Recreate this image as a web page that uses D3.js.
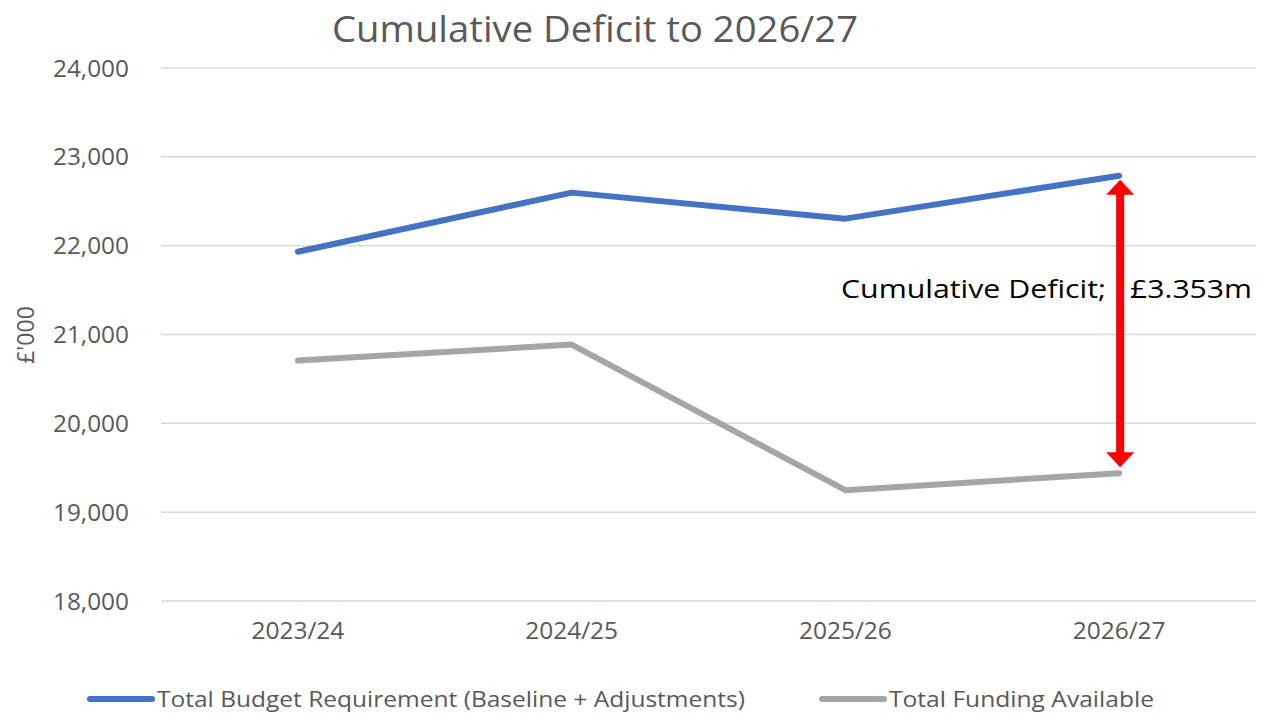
<!DOCTYPE html>
<html lang="en">
  <head>
    <meta charset="UTF-8" />
    <title>Cumulative Deficit</title>
    <script src="https://d3js.org/d3.v7.min.js"></script>
    <style>
      body { margin: 0; background: #fff; }
      svg { font-family: "Open Sans", "Noto Sans", sans-serif; }
      .grid line { stroke: #d9d9d9; stroke-width: 1.5; }
      .axis text { fill: #595959; font-size: 23px; font-family: "Open Sans", sans-serif; }
    </style>
  </head>
  <body>
    <svg id="chart" width="1269" height="715"></svg>
    <script>
      // data
      const years = ["2023/24", "2024/25", "2025/26", "2026/27"];
      const budget = [21932, 22597, 22304, 22788];
      const funding = [20707, 20887, 19248, 19439];
      const yTicks = [18000, 19000, 20000, 21000, 22000, 23000, 24000];
      const seriesNames = ["Total Budget Requirement (Baseline + Adjustments)", "Total Funding Available"];
      const deficitParts = ["Cumulative Deficit;", "£3.353m"];

      const width = 1269, height = 715;
      const margin = { top: 68, right: 13, bottom: 114, left: 161 };

      const svg = d3.select("#chart");

      const x = d3.scaleBand().domain(years).range([margin.left, width - margin.right]);
      const y = d3.scaleLinear().domain([18000, 24000]).range([height - margin.bottom, margin.top]);

      // gridlines
      svg.append("g").attr("class", "grid")
        .selectAll("line").data(yTicks).join("line")
        .attr("x1", margin.left).attr("x2", width - margin.right)
        .attr("y1", d => y(d)).attr("y2", d => y(d));

      // y axis
      const yAxis = d3.axisLeft(y).tickValues(yTicks).tickFormat(d3.format(",")).tickSize(0).tickPadding(32);
      svg.append("g").attr("class", "axis")
        .attr("transform", `translate(${margin.left},0)`)
        .call(yAxis)
        .call(g => g.select(".domain").remove())
        .selectAll("text").attr("dy", "0.35em").attr("textLength", 76).attr("lengthAdjust", "spacingAndGlyphs");

      // x axis
      const xAxis = d3.axisBottom(x).tickSize(0).tickPadding(22);
      svg.append("g").attr("class", "axis")
        .attr("transform", `translate(0,${height - margin.bottom})`)
        .call(xAxis)
        .call(g => g.select(".domain").remove())
        .selectAll("text").attr("textLength", 93).attr("lengthAdjust", "spacingAndGlyphs");

      // title
      svg.append("text")
        .attr("x", 595).attr("y", 42)
        .attr("text-anchor", "middle")
        .attr("fill", "#595959").attr("font-size", 36)
        .attr("textLength", 526).attr("lengthAdjust", "spacingAndGlyphs")
        .text("Cumulative Deficit to 2026/27");

      // y label
      svg.append("text")
        .attr("transform", "translate(34,335) rotate(-90)")
        .attr("text-anchor", "middle")
        .attr("fill", "#595959").attr("font-size", 23)
        .text("£'000");

      // lines
      const line = d3.line().x((d, i) => x(years[i]) + x.bandwidth() / 2).y(d => y(d));
      const series = [
        { values: budget, color: "#4472C4" },
        { values: funding, color: "#A5A5A5" }
      ];
      svg.selectAll(".series").data(series).join("path")
        .attr("class", "series")
        .attr("d", d => line(d.values))
        .attr("fill", "none")
        .attr("stroke", d => d.color)
        .attr("stroke-width", 6)
        .attr("stroke-linecap", "round")
        .attr("stroke-linejoin", "round");

      // deficit label (two pieces either side of the arrow)
      const labelX = [841, 1130];
      const labelW = [265, 122];
      svg.append("g").selectAll("text").data(deficitParts).join("text")
        .attr("x", (d, i) => labelX[i]).attr("y", 298)
        .attr("fill", "#000").attr("font-size", 25)
        .attr("textLength", (d, i) => labelW[i]).attr("lengthAdjust", "spacingAndGlyphs")
        .text(d => d);

      // double arrow
      const last = years.length - 1;
      const ax = x(years[last]) + x.bandwidth() / 2 + 1;
      const yTop = y(budget[last]) + 4, yBot = y(funding[last]) - 6;
      const head = 15, hw = 14, sw = 4;
      svg.append("path")
        .attr("fill", "#ff0000")
        .attr("d", `M${ax},${yTop} L${ax + hw},${yTop + head} L${ax + sw},${yTop + head}
          L${ax + sw},${yBot - head} L${ax + hw},${yBot - head} L${ax},${yBot}
          L${ax - hw},${yBot - head} L${ax - sw},${yBot - head} L${ax - sw},${yTop + head}
          L${ax - hw},${yTop + head} Z`);

      // legend
      const legendX = [88, 820];
      const legendW = [588, 265];
      const lg = svg.append("g").selectAll("g").data(series).join("g")
        .attr("transform", (d, i) => `translate(${legendX[i]},699)`);
      lg.append("line")
        .attr("x1", 2).attr("x2", 64).attr("y1", 0).attr("y2", 0)
        .attr("stroke", d => d.color).attr("stroke-width", 6).attr("stroke-linecap", "round");
      lg.append("text")
        .attr("x", 69).attr("dy", "0.35em")
        .attr("fill", "#595959").attr("font-size", 22)
        .attr("textLength", (d, i) => legendW[i]).attr("lengthAdjust", "spacingAndGlyphs")
        .text((d, i) => seriesNames[i]);
    </script>
  </body>
</html>
